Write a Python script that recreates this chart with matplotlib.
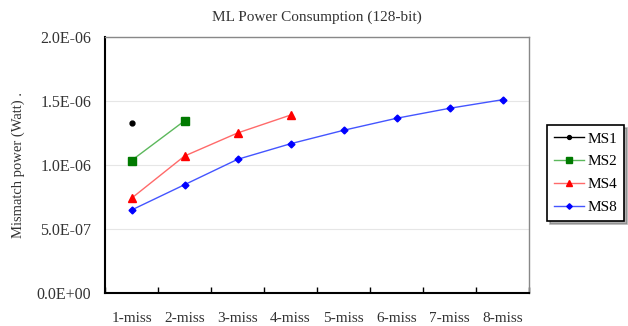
import numpy as np
import matplotlib
matplotlib.use("Agg")
from matplotlib import pyplot as plt

categories = ["1-miss", "2-miss", "3-miss", "4-miss", "5-miss", "6-miss", "7-miss", "8-miss"]
ms1 = [1.33e-6]
ms2 = [1.035e-6, 1.345e-6]
ms4 = [0.74e-6, 1.07e-6, 1.25e-6, 1.39e-6]
ms8 = [0.648e-6, 0.846e-6, 1.044e-6, 1.166e-6, 1.271e-6, 1.365e-6, 1.443e-6, 1.51e-6]
yticks = [0, 5e-7, 1e-6, 1.5e-6, 2e-6]
ytick_labels = ["0.0E+00", "5.0E-07", "1.0E-06", "1.5E-06", "2.0E-06"]

plt.rcParams['font.family'] = ['Liberation Serif', 'DejaVu Serif']
txt = '#333333'

fig = plt.figure(figsize=(6.28, 3.26), dpi=100)
# axes box in pixels: left 105, right 529, top 37, bottom 293
ax = fig.add_axes([105/628, 1-293/326, (529-105)/628, (293-37)/326])

x = np.arange(len(categories))
ax.plot(x[:len(ms1)], ms1, color='black', marker='o', markersize=3.5, lw=1, label='MS1')
ax.plot(x[:len(ms2)], ms2, color='#5cb85c', marker='s', markersize=6, lw=1,
        markerfacecolor='#007a00', markeredgecolor='#007a00', label='MS2')
ax.plot(x[:len(ms4)], ms4, color='#ff6a6a', marker='^', markersize=5.5, lw=1,
        markerfacecolor='red', markeredgecolor='red', label='MS4')
ax.plot(x[:len(ms8)], ms8, color='#4455ff', marker='D', markersize=3.5, lw=1,
        markerfacecolor='blue', markeredgecolor='blue', label='MS8')

ax.set_xlim(-0.5, len(categories) - 0.5)
ax.set_ylim(0, 2e-6)
ax.set_xticks(np.arange(len(categories) + 1) - 0.5)
ax.set_xticklabels([])
ax.set_xticks(x, minor=True)
ax.set_xticklabels(categories, minor=True, fontsize=11, color=txt)
ax.tick_params(axis='x', which='major', direction='in', length=4, width=1)
ax.tick_params(axis='x', which='minor', length=0, pad=14)
ax.set_yticks(yticks)
ax.set_yticklabels(ytick_labels, fontsize=11.5, color=txt)
ax.tick_params(axis='y', length=0, pad=10)
ax.yaxis.grid(True, color='#e6e6e6', lw=0.8)
ax.set_axisbelow(True)

for side in ['left', 'bottom']:
    ax.spines[side].set_linewidth(1.5)
    ax.spines[side].set_color('black')
for side in ['top', 'right']:
    ax.spines[side].set_linewidth(1)
    ax.spines[side].set_color('#888888')

ax.set_title("ML Power Consumption (128-bit)", fontsize=11, color=txt, pad=12)
ax.set_ylabel("Mismatch power (Watt) .", fontsize=10.5, color=txt, labelpad=8)

leg = ax.legend(loc='upper left', bbox_to_anchor=(547/628, 1-125/326),
                bbox_transform=fig.transFigure, fontsize=11, frameon=True,
                fancybox=False, shadow={'color': '#666666'}, borderpad=0.45,
                handlelength=2.0, labelspacing=0.6, handletextpad=0.2,
                borderaxespad=0, markerscale=0.8)
leg.get_frame().set_edgecolor('black')
leg.get_frame().set_linewidth(1.2)

fig.savefig("out.png", dpi=100)
